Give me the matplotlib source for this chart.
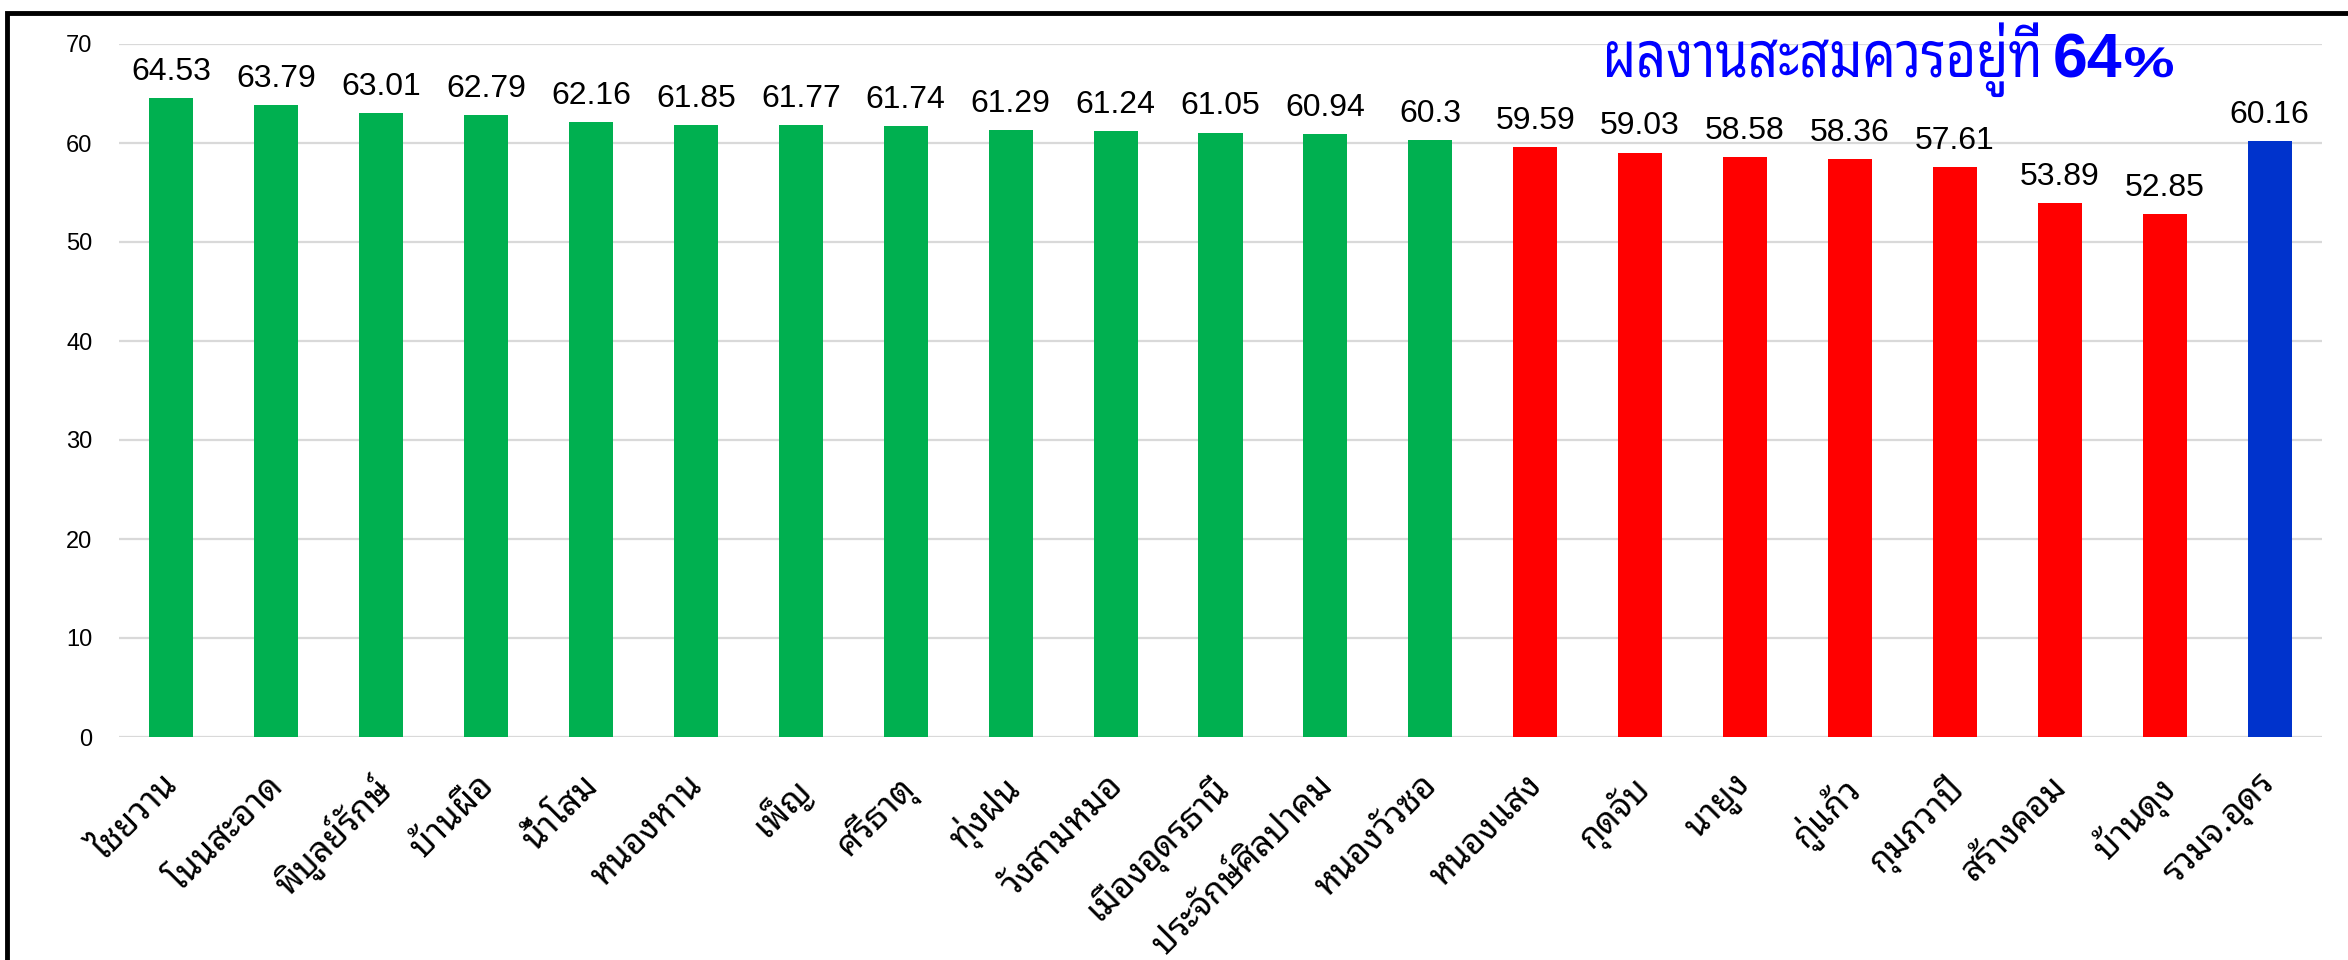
import matplotlib
matplotlib.use("Agg")
import matplotlib.pyplot as plt
from matplotlib import font_manager as fm
from matplotlib.ft2font import FT2Font
from matplotlib.patches import Rectangle, PathPatch
from matplotlib.textpath import TextPath
from matplotlib.font_manager import FontProperties
from matplotlib.transforms import Affine2D, IdentityTransform, ScaledTranslation

# ---------------- data ----------------
districts = ["ไชยวาน", "โนนสะอาด", "พิบูลย์รักษ์", "บ้านผือ", "น้ำโสม", "หนองหาน",
             "เพ็ญ", "ศรีธาตุ", "ทุ่งฝน", "วังสามหมอ", "เมืองอุดรธานี", "ประจักษ์ศิลปาคม",
             "หนองวัวซอ", "หนองแสง", "กุดจับ", "นายูง", "กู่แก้ว", "กุมภวาปี",
             "สร้างคอม", "บ้านดุง", "รวมจ.อุดร"]
values = [64.53, 63.79, 63.01, 62.79, 62.16, 61.85, 61.77, 61.74, 61.29, 61.24,
          61.05, 60.94, 60.3, 59.59, 59.03, 58.58, 58.36, 57.61, 53.89, 52.85, 60.16]
value_labels = ["64.53", "63.79", "63.01", "62.79", "62.16", "61.85", "61.77", "61.74",
                "61.29", "61.24", "61.05", "60.94", "60.3", "59.59", "59.03", "58.58",
                "58.36", "57.61", "53.89", "52.85", "60.16"]
groups = ["pass"] * 13 + ["fail"] * 7 + ["total"]
y_ticks = [0, 10, 20, 30, 40, 50, 60, 70]
title_thai = "ผลงานสะสมควรอยู่ที่"
title_num = "64"
title_pct = "%"

group_colors = {"pass": "#00B050", "fail": "#FF0000", "total": "#0033CC"}

# ---------------- fonts ----------------
thai_fams = set()
for f in fm.fontManager.ttflist:
    try:
        if FT2Font(f.fname).get_char_index(ord('ก')) != 0:
            thai_fams.add(f.name)
    except Exception:
        pass

def pick(prefs):
    for p in prefs:
        if p in thai_fams:
            return p
    return sorted(thai_fams)[0] if thai_fams else "DejaVu Sans"

label_font = pick(["Noto Sans Thai Looped", "Loma", "Noto Sans Thai", "Sarabun"])
title_font = pick(["Noto Sans Thai Looped", "Loma", "Noto Sans Thai", "Sarabun"])
num_font = "Liberation Sans"

# ---------------- figure ----------------
W, H = 2348, 960
DPI = 100
fig = plt.figure(figsize=(W / DPI, H / DPI), dpi=DPI)
ax = fig.add_axes([119 / W, 1 - 737 / H, 2203 / W, (737 - 44) / H])

x = list(range(len(values)))
cols = [group_colors[g] for g in groups]
bars = ax.bar(x, values, width=0.42, color=cols, zorder=3)

ax.set_xlim(-0.5, len(values) - 0.5)
ax.set_ylim(0, 70)
ax.set_yticks(y_ticks)
ax.set_yticklabels([str(t) for t in y_ticks], fontsize=17, family=num_font, color="#000000")
ax.yaxis.grid(True, color="#D9D9D9", linewidth=1.6, zorder=0)
ax.tick_params(axis="y", length=0, pad=19)
ax.tick_params(axis="x", length=0, pad=23)
for s in ax.spines.values():
    s.set_visible(False)
ax.set_xticks(x)
ax.set_xticklabels(districts, rotation=45, ha="right", rotation_mode="anchor",
                   fontsize=25, family=[label_font, "DejaVu Sans"], color="#000000")
shift = ScaledTranslation(-10 / DPI, 0, fig.dpi_scale_trans)
for lab in ax.get_xticklabels():
    lab.set_transform(lab.get_transform() + shift)

for b, lab in zip(bars, value_labels):
    ax.annotate(lab, (b.get_x() + b.get_width() / 2, b.get_height()),
                xytext=(0, 8), textcoords="offset points", ha="center", va="bottom",
                fontsize=23, family=num_font, color="#000000", zorder=4)

# ---------------- title (horizontally condensed text paths) ----------------
def stretched_text(s, family, weight, size_pt, x0, x1, baseline_px, color):
    fp = FontProperties(family=family, weight=weight)
    tp = TextPath((0, 0), s, size=size_pt * DPI / 72, prop=fp)
    bb = tp.get_extents()
    sx = (x1 - x0) / bb.width
    tr = Affine2D().translate(-bb.x0, 0).scale(sx, 1).translate(x0, H - baseline_px)
    p = PathPatch(tr.transform_path(tp), transform=IdentityTransform(),
                  facecolor=color, edgecolor="none", zorder=10)
    fig.add_artist(p)

stretched_text(title_thai, title_font, "bold", 46, 1607, 2038, 77, "#0000FF")
fig.text(2053 / W, 1 - 77 / H, title_num, fontsize=45, fontweight="bold",
         family=num_font, color="#0000FF", ha="left", va="baseline")
stretched_text(title_pct, num_font, "bold", 31, 2125, 2173, 77, "#0000FF")

# ---------------- outer frame ----------------
fig.add_artist(Rectangle((7 / W, -0.1), 1.2, 1 - 13 / H + 0.1, transform=fig.transFigure,
                         fill=False, edgecolor="black", linewidth=3.5, zorder=20))

fig.savefig("out.png", dpi=DPI)
